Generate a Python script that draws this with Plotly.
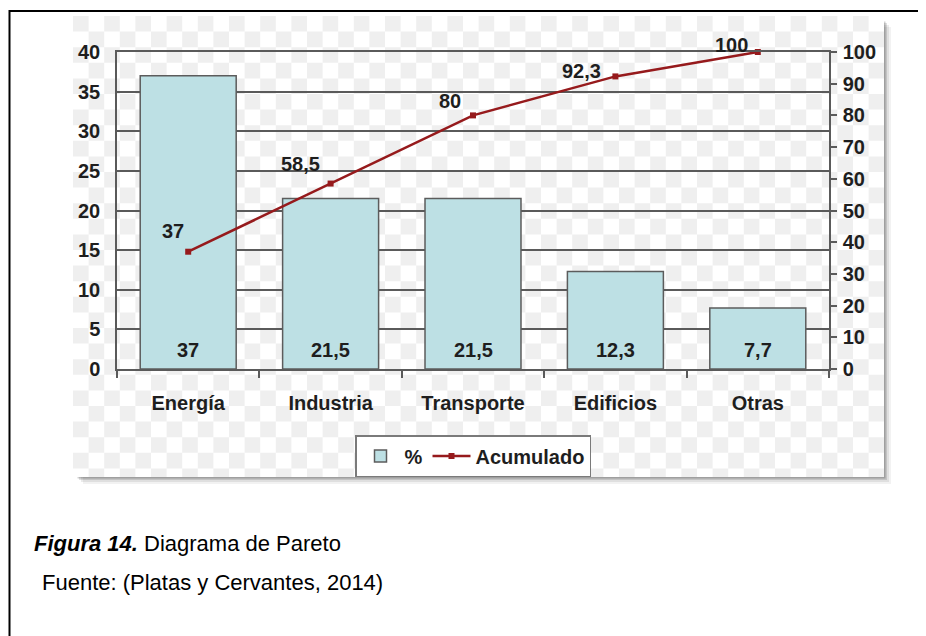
import plotly.graph_objects as go
from itertools import accumulate

# ---------------- data ----------------
categories = ["Energía", "Industria", "Transporte", "Edificios", "Otras"]
pct = [37, 21.5, 21.5, 12.3, 7.7]
acumulado = [round(v, 1) for v in accumulate(pct)]
left_ticks = [0, 5, 10, 15, 20, 25, 30, 35, 40]
right_ticks = [0, 10, 20, 30, 40, 50, 60, 70, 80, 90, 100]

# label placement offsets (style only, pixels) for the cumulative-line labels
line_label_dx = [-15, -30, -23, -34, -26]
line_label_dy = [21, 20, 14, 5, 7]


def fmt(v):
    return f"{v:g}".replace(".", ",")


# page body has an 8px margin: figure placed at (8, 8)
OFF = 8
W, H = 926 - OFF, 636 - OFF


def px(x):
    return (x - OFF) / W


def py(y):
    return 1 - (y - OFF) / H


FONT = "Liberation Sans, Arial, sans-serif"
TXT = "#1e1e1e"
GRID = "#5a5a5a"
RED = "#961a1c"

fig = go.Figure()

fig.add_trace(go.Bar(
    x=categories, y=pct, name="%",
    marker=dict(color="#bde0e4", line=dict(color="#5c5c5c", width=1.5)),
    hoverinfo="x+y",
    yaxis="y",
))

fig.add_trace(go.Scatter(
    x=categories, y=acumulado, name="Acumulado",
    mode="lines+markers",
    line=dict(color=RED, width=2.5),
    marker=dict(symbol="square", size=6, color=RED),
    cliponaxis=False,
    yaxis="y2",
))

# ---------------- decoration: frame, shadow, checker background ----------------
shapes = []
shapes.append(dict(type="rect", xref="paper", yref="paper",
                   x0=px(9.5), x1=px(960), y0=py(680), y1=py(11),
                   line=dict(color="black", width=2), fillcolor="rgba(0,0,0,0)",
                   layer="below"))
for off, op in [(7, 0.05), (5, 0.08), (3, 0.12), (1.5, 0.18)]:
    shapes.append(dict(type="rect", xref="paper", yref="paper",
                       x0=px(76 + off), x1=px(884 + off), y0=py(477 + off), y1=py(20 + off),
                       line=dict(width=0), fillcolor=f"rgba(0,0,0,{op})", layer="below"))
shapes.append(dict(type="rect", xref="paper", yref="paper",
                   x0=px(73), x1=px(884), y0=py(477), y1=py(16),
                   line=dict(width=0), fillcolor="white", layer="below"))
X0, X1, Y0, Y1, S = 73, 884, 16, 477, 15.6
path = []
j = 0
yy = Y0
while yy < Y1 - 0.5:
    i = 0
    xx = X0
    ye = min(yy + S, Y1)
    while xx < X1 - 0.5:
        xe = min(xx + S, X1)
        if (i + j) % 2 == 0:
            path.append(f"M{px(xx):.5f},{py(yy):.5f}H{px(xe):.5f}V{py(ye):.5f}H{px(xx):.5f}Z")
        xx += S
        i += 1
    yy += S
    j += 1
shapes.append(dict(type="path", xref="paper", yref="paper", path="".join(path),
                   fillcolor="#efefef", line=dict(width=0), layer="below"))

# bar value labels at the base of each bar
annotations = [
    dict(x=c, y=0, xref="x", yref="y", text=f"<b>{fmt(v)}</b>", showarrow=False,
         yanchor="middle", yshift=19,
         font=dict(family=FONT, size=20, color=TXT))
    for c, v in zip(categories, pct)
]
# cumulative line labels
annotations += [
    dict(x=c, y=v, xref="x", yref="y2", text=f"<b>{fmt(v)}</b>", showarrow=False,
         xanchor="center", yanchor="middle", xshift=dx, yshift=dy,
         font=dict(family=FONT, size=20, color=TXT))
    for c, v, dx, dy in zip(categories, acumulado, line_label_dx, line_label_dy)
]

CAP_FONT = "Liberation Sans Narrow, Arial Narrow, Liberation Sans, Arial"
annotations += [
    dict(xref="paper", yref="paper", x=px(32), y=py(543), xanchor="left", yanchor="middle",
         text="<b><i>Figura 14.</i></b> Diagrama de Pareto", showarrow=False,
         font=dict(family=CAP_FONT, size=22, color="black")),
    dict(xref="paper", yref="paper", x=px(40), y=py(582), xanchor="left", yanchor="middle",
         text="Fuente: (Platas y Cervantes, 2014)", showarrow=False,
         font=dict(family=CAP_FONT, size=22, color="black")),
]

tickfont = dict(family=FONT, size=20, color=TXT, weight="bold")

fig.update_layout(
    width=W, height=H,
    margin=dict(l=0, r=0, t=0, b=0, autoexpand=False),
    paper_bgcolor="white",
    plot_bgcolor="rgba(0,0,0,0)",
    bargap=0.326,
    font=dict(family=FONT, color=TXT),
    shapes=shapes,
    annotations=annotations,
    xaxis=dict(
        domain=[px(117), px(829)], type="category", anchor="y", automargin=False,
        showline=True, linecolor=GRID, linewidth=1.5, mirror=True,
        ticks="outside", tickson="boundaries", ticklen=7, tickcolor=GRID, tickwidth=1.5,
        tickfont=tickfont, ticklabelstandoff=15, showgrid=False,
    ),
    yaxis=dict(
        domain=[py(369), py(52)], range=[0, 40], tickvals=left_ticks, anchor="x",
        automargin=False,
        showgrid=True, gridcolor=GRID, gridwidth=1.5, zeroline=False,
        showline=True, linecolor=GRID, linewidth=1.5,
        ticks="", tickfont=tickfont, ticklabelstandoff=11,
    ),
    yaxis2=dict(
        overlaying="y", side="right", anchor="x", range=[0, 100], tickvals=right_ticks,
        automargin=False,
        showgrid=False, zeroline=False, showline=True, linecolor=GRID, linewidth=1.5,
        ticks="outside", ticklen=6, tickcolor=GRID, tickwidth=1.5, tickfont=tickfont,
        ticklabelstandoff=2,
    ),
    yaxis3=dict(
        overlaying="y", side="right", anchor="x", range=[0, 100], tickvals=right_ticks,
        automargin=False,
        showgrid=False, zeroline=False, showline=False, showticklabels=False,
        ticks="inside", ticklen=6, tickcolor=GRID, tickwidth=1.5,
    ),
    legend=dict(
        orientation="h", x=px(473), xanchor="center", y=py(435), yanchor="top",
        bgcolor="white", bordercolor="#7a7a7a", borderwidth=1.5,
        font=dict(family=FONT, size=20, color=TXT, weight="bold"),
        itemwidth=38, tracegroupgap=0,
    ),
    showlegend=True,
)

fig.write_html("out.html")
